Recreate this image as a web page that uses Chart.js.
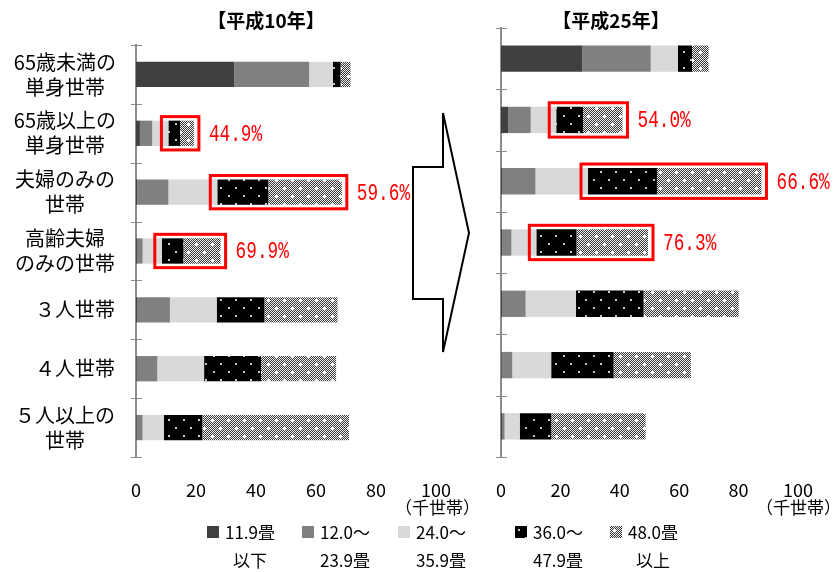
<!DOCTYPE html>
<html>
<head>
<meta charset="UTF-8">
<title>世帯型別 住宅の広さ</title>
<script src="https://cdn.jsdelivr.net/npm/chart.js"></script>
<style>
  body { margin: 0; background: #fff; font-family: "Noto Sans CJK JP", sans-serif; color: #000; }
  #wrap { position: relative; width: 840px; height: 572px; overflow: hidden; }
  canvas.chart { position: absolute; top: 0; }
  .title { position: absolute; top: 6px; font-size: 19px; font-weight: bold; transform: translateX(-50%); white-space: nowrap; }
  .unit { position: absolute; top: 494px; font-size: 17px; white-space: nowrap; }
  .lg { position: absolute; top: 518px; font-size: 17px; line-height: 28px; }
  .lg canvas { position: absolute; left: 0; top: 8px; }
  .lg div { position: absolute; left: 18px; top: 0; text-align: center; white-space: nowrap; }
  svg { position: absolute; left: 0; top: 0; }
</style>
</head>
<body>
<div id="wrap">
  <canvas id="h10" class="chart" width="470" height="530" style="left:0"></canvas>
  <canvas id="h25" class="chart" width="400" height="530" style="left:440px"></canvas>
  <div class="title" style="left:266px">【平成10年】</div>
  <div class="title" style="left:611px">【平成25年】</div>
  <div class="unit" style="left:395px">（千世帯）</div>
  <div class="unit" style="left:756px">（千世帯）</div>
  <svg width="840" height="572">
    <polygon points="443,113 443,167 413,167 413,299 443,299 443,352 469,233"
             fill="#fff" stroke="#000" stroke-width="2" stroke-linejoin="miter"/>
  </svg>
  <div id="legend"></div>
</div>

<script>
// 世帯の型（縦軸）
const householdTypes = [
  ['65歳未満の', '単身世帯'],
  ['65歳以上の', '単身世帯'],
  ['夫婦のみの', '世帯'],
  ['高齢夫婦', 'のみの世帯'],
  '３人世帯',
  '４人世帯',
  ['５人以上の', '世帯']
];

// 延べ面積の区分（凡例）
const sizeClasses = [
  ['11.9畳', '以下'],
  ['12.0～', '23.9畳'],
  ['24.0～', '35.9畳'],
  ['36.0～', '47.9畳'],
  ['48.0畳', '以上']
];

// 平成10年（千世帯）
const h10Under12 = [32.7, 1.3, 0.4, 0.3, 0.3, 0.2, 0.2];
const h10From12  = [25.0, 4.1, 10.4, 1.9, 11.0, 6.9, 2.0];
const h10From24  = [7.9, 5.4, 16.3, 6.4, 15.6, 15.6, 7.1];
const h10From36  = [2.6, 3.9, 17.0, 7.2, 15.9, 19.0, 12.8];
const h10Over48  = [3.3, 4.6, 24.5, 12.4, 24.4, 25.0, 48.9];

// 平成25年（千世帯）
const h25Under12 = [27.3, 2.4, 0.3, 0.4, 0.3, 0.2, 0.3];
const h25From12  = [23.1, 7.6, 11.3, 3.1, 8.0, 3.6, 0.9];
const h25From24  = [9.2, 8.6, 17.7, 8.4, 16.9, 13.1, 5.1];
const h25From36  = [4.7, 9.0, 23.2, 13.5, 22.8, 21.0, 10.6];
const h25Over48  = [5.6, 13.3, 35.2, 24.1, 32.0, 26.0, 31.8];

// 36.0畳以上の割合（%）
const h10Share36 = [null, 44.9, 59.6, 69.9, null, null, null];
const h25Share36 = [null, 54.0, 66.6, 76.3, null, null, null];

const xMin = 0, xMax = 100, xStep = 20;

Chart.defaults.font.family = '"Noto Sans CJK JP", sans-serif';
Chart.defaults.color = '#000';

// 塗りパターン
function dotTile() {
  const c = document.createElement('canvas');
  c.width = 15; c.height = 16;
  const g = c.getContext('2d');
  g.fillStyle = '#000';
  g.fillRect(0, 0, 15, 16);
  g.fillStyle = '#c8c8c8';
  g.fillRect(3, 3, 2, 2);
  g.fillRect(10, 11, 2, 2);
  return c;
}
function checkTile() {
  const c = document.createElement('canvas');
  c.width = 16; c.height = 16;
  const g = c.getContext('2d');
  for (let y = 0; y < 16; y++) {
    for (let x = 0; x < 16; x++) {
      g.fillStyle = (x + y) % 2 ? '#383838' : '#f2f2f2';
      g.fillRect(x, y, 1, 1);
    }
  }
  g.fillStyle = '#fff';
  [[4, 4], [12, 12]].forEach(([px, py]) => {
    g.fillRect(px - 1, py, 3, 1);
    g.fillRect(px, py - 1, 1, 3);
  });
  return c;
}
const tmp = document.createElement('canvas').getContext('2d');
const fills = [
  '#404040',
  '#808080',
  '#d9d9d9',
  tmp.createPattern(dotTile(), 'repeat'),
  tmp.createPattern(checkTile(), 'repeat')
];

// 赤枠と割合ラベル、軸の目盛り
const framePlugin = {
  id: 'frames',
  afterDatasetsDraw(chart, args, opts) {
    const ctx = chart.ctx;
    const area = chart.chartArea;
    const n = chart.data.labels.length;

    ctx.save();
    ctx.strokeStyle = '#8c8c8c';
    ctx.lineWidth = 1;
    for (let i = 0; i <= n; i++) {
      const py = Math.round(area.top + i * (area.bottom - area.top) / n) + 0.5;
      ctx.beginPath();
      ctx.moveTo(area.left - 5, py);
      ctx.lineTo(area.left + 6, py);
      ctx.stroke();
    }

    opts.share.forEach((v, i) => {
      if (v == null) return;
      const a = chart.getDatasetMeta(3).data[i];
      const b = chart.getDatasetMeta(4).data[i];
      const x0 = a.base - 7, x1 = b.x + 5;
      const half = a.height / 2 + 4;
      ctx.strokeStyle = '#ff0000';
      ctx.lineWidth = 3;
      ctx.strokeRect(x0, a.y - half, x1 - x0, half * 2);

      ctx.save();
      ctx.translate(x1 + 10, a.y + 1);
      ctx.scale(0.74, 1);
      ctx.fillStyle = '#ff0000';
      ctx.font = '24px "Liberation Mono", monospace';
      ctx.textBaseline = 'middle';
      ctx.fillText(v.toFixed(1) + '%', 0, 0);
      ctx.restore();
    });
    ctx.restore();
  }
};

function makeChart(id, series, share, showLabels, axisWidth, rightPad) {
  return new Chart(document.getElementById(id), {
    type: 'bar',
    data: {
      labels: householdTypes,
      datasets: series.map((d, k) => ({
        label: sizeClasses[k].join(''),
        data: d,
        backgroundColor: fills[k],
        borderWidth: 0,
        barPercentage: 0.43,
        categoryPercentage: 1
      }))
    },
    options: {
      indexAxis: 'y',
      responsive: false,
      animation: false,
      layout: { padding: { top: 28, right: rightPad, left: 0, bottom: 0 } },
      plugins: {
        legend: { display: false },
        tooltip: { enabled: false },
        frames: { share: share }
      },
      scales: {
        x: {
          stacked: true,
          min: xMin, max: xMax,
          ticks: { stepSize: xStep, padding: 14, font: { size: 18 }, color: '#000' },
          grid: { display: false },
          border: { display: false },
          afterFit: s => { s.height = 73; }
        },
        y: {
          stacked: true,
          grid: { drawOnChartArea: false, drawTicks: false },
          border: { color: '#8c8c8c', width: 2 },
          ticks: {
            display: showLabels,
            crossAlign: 'center',
            padding: 20,
            font: { size: 20, lineHeight: 1.25 },
            color: '#000',
            // 一行だけのラベルは右寄せ気味に見せる
            callback: function (v) {
              const lab = this.getLabelForValue(v);
              return Array.isArray(lab) ? lab : '　' + lab;
            }
          },
          afterFit: s => { s.width = axisWidth; }
        }
      }
    },
    plugins: [framePlugin]
  });
}

makeChart('h10', [h10Under12, h10From12, h10From24, h10From36, h10Over48], h10Share36, true, 136, 34);
makeChart('h25', [h25Under12, h25From12, h25From24, h25From36, h25Over48], h25Share36, false, 61, 42);

// 凡例
const legendX = [207, 302, 398, 515, 610];
const legend = document.getElementById('legend');
sizeClasses.forEach((lines, k) => {
  const item = document.createElement('div');
  item.className = 'lg';
  item.style.left = legendX[k] + 'px';
  const sw = document.createElement('canvas');
  sw.width = 12; sw.height = 12;
  const g = sw.getContext('2d');
  g.fillStyle = fills[k];
  g.fillRect(0, 0, 12, 12);
  const txt = document.createElement('div');
  txt.innerHTML = lines.join('<br>');
  item.appendChild(sw);
  item.appendChild(txt);
  legend.appendChild(item);
});
</script>
</body>
</html>
